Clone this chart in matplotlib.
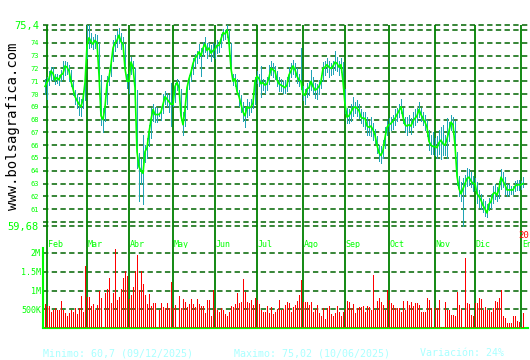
import matplotlib
matplotlib.use("Agg")
import matplotlib.pyplot as plt
import numpy as np

# trading days from 31/01/2025 to 02/01/2026, one entry per weekday
months = ["Feb", "Mar", "Abr", "May", "Jun", "Jul", "Ago", "Sep", "Oct", "Nov", "Dic", "En"]
month_start = [1, 21, 42, 64, 85, 106, 129, 150, 172, 195, 215, 238]

close = [
    70.6,
    70.9, 71.2, 71.8, 71.6, 71.1, 71.3, 71.1, 71.5, 71.6, 72.2, 72.1, 71.8, 71.0, 70.4, 69.8, 69.5, 69.2, 69.0, 69.6, 70.9,
    73.8, 74.4, 74.1, 73.9, 74.2, 74.0, 71.5, 68.3, 68.0, 69.0, 70.8, 71.3, 72.3, 73.6, 74.0, 74.2, 74.6, 74.1, 73.9, 72.0, 71.0,
    71.0, 72.5, 72.1, 70.5, 65.5, 64.3, 64.0, 63.8, 65.5, 65.8, 67.0, 68.0, 68.8, 68.4, 68.4, 68.4, 68.6, 69.2, 69.8, 69.6, 69.4, 69.2,
    69.2, 70.6, 70.9, 70.5, 68.3, 67.6, 68.8, 70.5, 71.2, 71.7, 72.4, 72.8, 73.0, 73.3, 73.0, 73.6, 73.9, 73.4, 73.6, 73.2, 73.4,
    73.5, 73.8, 73.8, 74.3, 74.8, 74.7, 75.02, 74.0, 72.0, 71.0, 71.2, 70.2, 69.8, 69.2, 68.6, 68.3, 69.0, 68.9, 69.0, 69.3, 71.0,
    71.4, 71.2, 70.8, 70.9, 70.7, 70.8, 71.3, 72.0, 71.9, 71.8, 71.1, 70.8, 70.7, 70.6, 70.5, 70.7, 71.5, 71.8, 72.2, 71.9, 71.4, 71.1, 71.0,
    70.0, 69.9, 70.4, 70.5, 71.0, 70.6, 70.3, 70.4, 70.6, 71.0, 72.0, 72.1, 72.3, 72.1, 72.0, 72.2, 72.5, 72.4, 72.1, 72.3, 71.0,
    69.2, 68.2, 68.3, 68.6, 68.9, 69.0, 68.9, 68.7, 68.2, 68.1, 68.1, 67.5, 67.4, 67.5, 67.2, 66.8, 66.0, 65.4, 65.2, 65.6, 66.6, 67.4,
    67.6, 67.7, 67.9, 68.1, 68.4, 68.7, 69.0, 68.2, 67.6, 67.5, 67.6, 67.5, 67.9, 68.1, 68.3, 68.8, 68.4, 68.1, 67.8, 67.4, 66.3, 66.0, 65.9,
    65.9, 65.8, 66.2, 66.4, 66.1, 66.0, 66.5, 67.1, 67.8, 67.6, 66.0, 63.6, 62.6, 62.2, 62.6, 63.0, 63.4, 63.5, 63.2, 63.0,
    63.0, 62.2, 62.0, 61.7, 61.3, 61.0, 60.7, 61.4, 61.6, 62.2, 62.3, 62.1, 62.6, 63.5, 63.2, 62.9, 62.5, 62.5, 62.5, 62.5, 62.8, 62.9, 62.9,
    62.9, 63.0,
]
high = [
    71.2,
    71.3, 71.8, 72.1, 72.1, 71.6, 71.6, 71.5, 71.9, 72.6, 72.6, 72.5, 72.3, 71.9, 71.0, 70.3, 70.0, 69.8, 69.6, 70.2, 71.8,
    75.4, 75.4, 74.8, 74.5, 74.7, 74.6, 74.0, 71.5, 68.9, 69.8, 71.4, 71.9, 72.8, 74.2, 74.6, 74.9, 75.2, 74.8, 74.5, 73.9, 71.6,
    71.8, 72.9, 72.6, 72.0, 70.3, 65.4, 64.9, 66.8, 66.0, 66.6, 67.6, 68.9, 69.2, 69.0, 68.9, 68.5, 69.0, 70.0, 70.2, 70.1, 69.9, 70.9,
    69.4, 70.9, 71.2, 71.0, 70.4, 68.6, 69.4, 70.8, 71.5, 72.0, 72.8, 73.1, 73.4, 73.9, 73.6, 74.1, 74.5, 74.0, 74.0, 73.8, 74.0,
    73.9, 74.2, 74.1, 74.7, 75.1, 75.0, 75.4, 75.0, 74.0, 71.6, 71.6, 71.2, 70.3, 69.9, 69.4, 69.0, 69.6, 69.4, 69.6, 70.0, 71.3,
    71.8, 71.6, 72.2, 71.2, 71.1, 71.3, 72.3, 72.6, 72.4, 72.2, 71.8, 71.3, 71.2, 71.0, 71.1, 71.3, 72.1, 72.4, 72.7, 72.4, 72.0, 71.6, 73.6,
    70.6, 70.4, 70.9, 71.0, 71.9, 71.3, 70.9, 70.8, 71.1, 71.5, 72.5, 72.6, 72.8, 72.6, 72.4, 72.6, 73.4, 72.9, 72.6, 72.8, 72.5,
    70.4, 68.9, 68.8, 69.2, 69.8, 69.4, 69.5, 69.2, 68.8, 68.6, 68.6, 68.2, 67.9, 68.2, 67.7, 67.3, 66.7, 66.0, 65.9, 66.4, 67.4, 67.9,
    68.1, 68.2, 68.4, 68.8, 68.9, 69.2, 69.6, 68.9, 68.2, 68.2, 68.4, 68.1, 68.6, 68.8, 68.9, 69.4, 68.9, 68.6, 68.4, 68.0, 67.2, 66.8, 67.0,
    66.6, 66.7, 67.2, 67.4, 67.6, 66.8, 68.1, 67.8, 68.4, 68.2, 67.9, 65.5, 63.6, 63.1, 63.4, 63.7, 64.2, 64.1, 63.9, 63.6,
    63.4, 63.1, 62.5, 62.2, 61.8, 61.6, 61.4, 61.9, 62.2, 62.8, 63.0, 62.7, 63.2, 64.1, 63.9, 63.5, 63.0, 63.0, 62.8, 62.8, 63.2, 63.3, 63.3,
    63.2, 63.5,
]
low = [
    70.0,
    69.6, 70.7, 71.1, 71.1, 70.8, 70.9, 70.7, 71.0, 71.2, 71.5, 71.6, 71.0, 70.6, 69.9, 69.2, 68.9, 68.4, 68.3, 68.9, 69.5,
    72.8, 73.6, 73.7, 73.5, 73.6, 73.4, 71.0, 67.6, 67.0, 67.9, 69.2, 70.7, 71.4, 72.6, 73.4, 73.7, 74.0, 73.5, 73.2, 71.8, 70.5,
    70.1, 71.6, 71.5, 70.2, 64.2, 61.6, 63.0, 61.4, 64.7, 65.0, 65.9, 66.6, 67.9, 67.8, 67.8, 68.3, 68.0, 68.5, 69.2, 69.1, 68.6, 67.5,
    69.1, 69.4, 70.3, 70.0, 68.0, 66.8, 67.5, 68.8, 70.4, 71.0, 71.6, 72.2, 72.4, 72.8, 71.4, 73.0, 73.3, 72.8, 73.1, 72.6, 72.9,
    72.8, 73.2, 73.3, 73.7, 74.2, 74.3, 74.5, 73.7, 71.8, 70.7, 70.6, 70.0, 69.1, 68.6, 67.9, 67.4, 68.2, 68.4, 68.6, 68.9, 69.2,
    70.9, 70.6, 69.8, 70.3, 70.1, 70.3, 70.8, 71.5, 71.3, 71.2, 70.6, 70.2, 70.2, 70.1, 70.1, 70.2, 70.6, 71.3, 71.6, 71.3, 70.9, 70.6, 70.4,
    69.5, 69.2, 69.8, 69.9, 70.3, 70.0, 69.7, 69.6, 70.0, 70.5, 71.0, 71.5, 71.7, 71.3, 71.5, 71.6, 71.9, 71.8, 71.5, 71.7, 70.6,
    68.5, 67.7, 67.7, 67.9, 68.3, 68.5, 68.3, 68.1, 67.7, 67.5, 67.3, 66.8, 66.8, 66.7, 66.4, 66.2, 65.4, 64.8, 64.6, 65.0, 65.8, 66.8,
    67.1, 67.2, 67.3, 67.6, 67.9, 68.2, 68.5, 67.7, 67.0, 66.8, 67.1, 66.9, 67.4, 67.6, 67.8, 68.2, 67.9, 67.6, 67.2, 66.7, 65.6, 65.3, 65.3,
    65.2, 65.0, 65.3, 64.9, 65.2, 65.2, 65.0, 66.3, 67.2, 66.9, 65.6, 62.9, 62.0, 61.6, 59.7, 62.2, 62.8, 62.9, 62.7, 62.4,
    62.5, 61.5, 61.2, 61.0, 60.8, 60.5, 60.4, 60.9, 61.1, 61.5, 61.8, 61.6, 61.9, 62.6, 62.7, 62.2, 62.0, 62.1, 62.2, 62.2, 62.4, 62.5, 62.5,
    62.6, 62.7,
]
# volume in millions of shares
volume = [
    0.65,
    0.58, 0.58, 0.44, 0.49, 0.54, 0.49, 0.47, 0.72, 0.47, 0.40, 0.32, 0.40, 0.47, 0.44, 0.54, 0.37, 0.54, 0.86, 0.44, 1.65,
    0.83, 0.83, 0.60, 0.65, 0.49, 0.61, 1.00, 0.80, 0.03, 0.93, 1.04, 1.34, 0.68, 0.93, 2.10, 0.75, 0.84, 1.04, 1.34, 1.52, 1.40,
    0.77, 0.89, 1.09, 1.52, 1.94, 1.02, 1.52, 1.17, 0.88, 0.65, 0.90, 0.60, 0.68, 0.68, 0.03, 0.49, 0.68, 0.56, 0.54, 0.68, 0.54, 1.23,
    0.54, 0.61, 0.03, 0.86, 0.54, 0.77, 0.70, 0.56, 0.63, 0.77, 0.63, 0.56, 0.77, 0.65, 0.58, 0.58, 0.40, 0.75, 0.75, 0.33, 1.02,
    0.54, 0.47, 0.42, 0.54, 0.47, 0.37, 0.33, 0.42, 0.58, 0.56, 0.63, 0.93, 0.68, 0.69, 1.31, 0.95, 0.69, 0.68, 0.75, 0.61, 0.79,
    0.75, 0.65, 0.47, 0.42, 0.44, 0.58, 0.40, 0.56, 0.37, 0.44, 0.52, 0.75, 0.49, 0.51, 0.61, 0.69, 0.68, 0.42, 0.56, 0.61, 0.72, 0.88, 1.28,
    0.69, 0.69, 0.69, 0.61, 0.69, 0.42, 0.51, 0.61, 0.40, 0.33, 0.54, 0.23, 0.54, 0.58, 0.37, 0.33, 0.40, 0.58, 0.42, 0.33, 0.42,
    0.51, 0.72, 0.69, 0.54, 0.65, 0.40, 0.54, 0.56, 0.56, 0.60, 0.42, 0.58, 0.56, 0.47, 1.42, 0.49, 0.72, 0.79, 0.69, 0.61, 0.49, 1.02,
    0.75, 0.68, 0.61, 0.54, 0.54, 0.54, 0.44, 0.72, 0.47, 0.72, 0.61, 0.69, 0.58, 0.68, 0.68, 0.61, 0.42, 0.44, 0.44, 0.81, 0.75, 0.54, 0.03,
    0.54, 0.54, 0.75, 0.03, 0.03, 0.69, 0.47, 0.47, 0.35, 0.35, 0.33, 0.97, 0.61, 0.52, 0.03, 1.88, 0.68, 0.65, 0.35, 0.32,
    0.66, 0.68, 0.79, 0.77, 0.47, 0.56, 0.47, 0.47, 0.42, 0.54, 0.72, 0.69, 0.79, 1.02, 0.33, 0.28, 0.14, 0.14, 0.14, 0.31, 0.31, 0.19, 0.17,
    0.03, 0.40,
]

price_top, price_bottom = 75.4, 59.68
price_ticks = [74, 73, 72, 71, 70, 69, 68, 67, 66, 65, 64, 63, 62, 61]
price_grid = [75.4, 75, 74, 73, 72, 71, 70, 69, 68, 67, 66, 65, 64, 63, 62, 61, 60, 59.68]
vol_ticks = [0.5, 1.0, 1.5, 2.0]
vol_labels = ["500K", "1M", "1.5M", "2M"]

info_min = "Minimo: 60,7 (09/12/2025)"
info_max = "Maximo: 75,02 (10/06/2025)"
info_var = "Variación: 24%"

LIME = "#00ff00"
DARK = "#006400"
MONTH = "#008000"
TEAL = "#1fa3b5"
MONO = "DejaVu Sans Mono"

W, H = 530, 360
fig = plt.figure(figsize=(W / 100, H / 100), dpi=100)
fig.patch.set_facecolor("white")


def box(left, top, right, bottom):
    return [left / W, 1 - bottom / H, (right - left) / W, (bottom - top) / H]


# price panel
ax = fig.add_axes(box(43, 22, 528, 248))
ax.set_xlim(-1, 241.5)
ax.set_ylim(price_bottom - 22 / 12.8, price_top + 3 / 12.8)
for s in ax.spines.values():
    s.set_visible(False)
ax.set_xticks([])

ax.hlines(price_grid, -1, 241.5, colors=DARK, linestyles=(0, (3.5, 2.2)), lw=1.1, zorder=1)
ax.vlines(month_start, ax.get_ylim()[0], price_top, colors=MONTH, lw=1.3, zorder=2)

x = np.arange(len(close))
ax.vlines(x, low, high, colors=TEAL, lw=0.6, zorder=3, antialiased=False)
ax.plot(x, close, color=LIME, lw=1.2, zorder=4)

yt = [price_bottom] + price_ticks + [price_top]
yl = ["59,68"] + [str(t) for t in price_ticks] + ["75,4"]
ax.set_yticks(yt, yl)
ax.tick_params(axis="y", length=0, pad=3, labelcolor=LIME, labelsize=5)
for lab in ax.get_yticklabels():
    lab.set_family(MONO)
labs = ax.get_yticklabels()
labs[0].set_fontsize(7.5)
labs[-1].set_fontsize(7.5)

for m, k in zip(months, month_start):
    ax.text(k + 0.4, 58.25, m, color=LIME, fontsize=6, family=MONO, ha="left", va="center")

# volume panel
axv = fig.add_axes(box(43, 248, 528, 328))
axv.set_xlim(-1, 241.5)
axv.set_ylim(0, 80 / 37.5)
for s in ["top", "right"]:
    axv.spines[s].set_visible(False)
for s in ["left", "bottom"]:
    axv.spines[s].set_color(LIME)
    axv.spines[s].set_linewidth(1.5)
axv.set_xticks([])
axv.hlines(vol_ticks, -1, 241.5, colors=DARK, linestyles=(0, (3.5, 2.2)), lw=1.1, zorder=1)
axv.vlines(month_start, 0, 80 / 37.5, colors=MONTH, lw=1.3, zorder=2)
xv = np.arange(len(volume))
axv.vlines(xv, 0, volume, colors="#ff0000", lw=0.6, zorder=3, antialiased=False)
axv.set_yticks(vol_ticks, vol_labels)
axv.tick_params(axis="y", length=0, pad=1.5, labelcolor=LIME, labelsize=6)
for lab in axv.get_yticklabels():
    lab.set_family(MONO)

# texts
fig.text(518 / W, 1 - 236 / H, "20", color="#ff0000", fontsize=6.5, family=MONO, ha="left", va="center")
fig.text(13.5 / W, 1 - 126 / H, "www.bolsagrafica.com", rotation=90, color="black",
         fontsize=10, family=MONO, ha="center", va="center")
for xp, t in [(43, info_min), (234, info_max), (420, info_var)]:
    fig.text(xp / W, 1 - 353 / H, t, color="#aaffff", fontsize=7.2, family=MONO, ha="left", va="center")

fig.savefig("out.png", dpi=100, facecolor="white")
